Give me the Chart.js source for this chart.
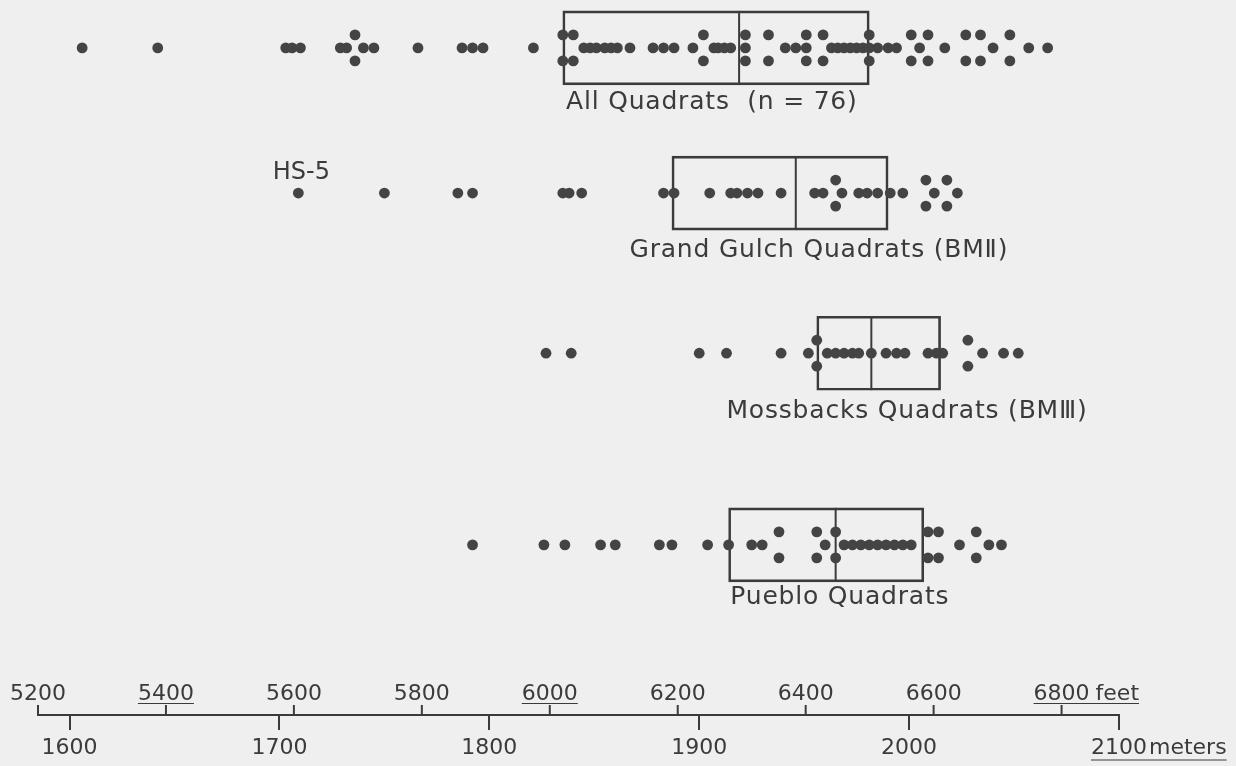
<!DOCTYPE html>
<html>
<head>
<meta charset="utf-8">
<title>Quadrat elevations</title>
<script src="https://cdn.jsdelivr.net/npm/chart.js@4.4.0/dist/chart.umd.min.js"></script>
<style>
  html, body { margin: 0; padding: 0; background: #efefef; }
  #wrap { width: 1236px; height: 766px; position: relative; }
</style>
</head>
<body>
<div id="wrap"><canvas id="elevChart"></canvas></div>
<script>
// elevations in meters
const groupNames = ['All Quadrats  (n = 76)', 'Grand Gulch Quadrats (BMⅡ)', 'Mossbacks Quadrats (BMⅢ)', 'Pueblo Quadrats'];
const allQuadrats = [1606, 1642, 1703, 1706, 1710, 1729, 1732, 1736, 1736, 1740, 1745, 1766, 1787, 1792, 1797,
  1821, 1835, 1835, 1840, 1840, 1845, 1848, 1851, 1855, 1858, 1861, 1867, 1878, 1883, 1888, 1897, 1902, 1902,
  1907, 1909, 1912, 1915, 1922, 1922, 1922, 1933, 1933, 1941, 1946, 1951, 1951, 1951, 1959, 1959, 1963, 1966,
  1969, 1972, 1975, 1978, 1981, 1981, 1981, 1985, 1990, 1994, 2001, 2001, 2005, 2009, 2009, 2017, 2027, 2027,
  2034, 2034, 2040, 2048, 2048, 2057, 2066];
const grandGulch = [1709, 1750, 1785, 1792, 1835, 1838, 1844, 1883, 1888, 1905, 1915, 1918, 1923, 1928, 1939,
  1955, 1959, 1965, 1965, 1968, 1976, 1980, 1985, 1991, 1997, 2008, 2008, 2012, 2018, 2018, 2023];
const mossbacks = [1827, 1839, 1900, 1913, 1939, 1952, 1956, 1956, 1961, 1965, 1969, 1973, 1976, 1982, 1989,
  1994, 1998, 2009, 2013, 2016, 2028, 2028, 2035, 2045, 2052];
const pueblo = [1792, 1826, 1836, 1853, 1860, 1881, 1887, 1904, 1914, 1925, 1930, 1938, 1938, 1956, 1956, 1960,
  1965, 1965, 1969, 1973, 1977, 1981, 1985, 1989, 1993, 1997, 2001, 2009, 2009, 2014, 2014, 2024, 2032, 2032,
  2038, 2044];

const boxLow = [1835, 1887, 1956, 1914];
const boxMedian = [1919, 1946, 1982, 1965];
const boxHigh = [1981, 1990, 2015, 2007];

const meterTicks = [1600, 1700, 1800, 1900, 2000, 2100];
const feetTicks = [5200, 5400, 5600, 5800, 6000, 6200, 6400, 6600, 6800];
const underlinedFeet = [5400, 6000, 6800];

const captionCenters = [1906, 1957, 1999, 1967];
const outlierName = 'HS-5';
const outlierValue = 1709;

// layout
const FT = 0.3048;
const rowY = [6.7, 27.0, 49.4, 76.2];
const captionY = [14.4, 35.0, 57.6, 83.6];
const outlierLabelY = 24.2;
const stackGap = 1.82;
const ink = '#3b3b3b';
const dotColor = '#444444';
const paper = '#efefef';
const fontFamily = '"DejaVu Sans", sans-serif';
const labelSize = 22;
const tickLen = 15;
const tickPad = 7;
const captionSize = 25;

// same value twice -> above and below, three times -> centre, above, below
function dotPoints(values, row) {
  const counts = {};
  values.forEach(v => { counts[v] = (counts[v] || 0) + 1; });
  const seen = {};
  return values.map(v => {
    const k = seen[v] = (seen[v] || 0) + 1;
    let shift = 0;
    if (counts[v] === 2) shift = k === 1 ? -stackGap : stackGap;
    else if (counts[v] >= 3) shift = [0, -stackGap, stackGap][k - 1] || 0;
    return { x: v, y: rowY[row] + shift };
  });
}

const series = [allQuadrats, grandGulch, mossbacks, pueblo];

const dotSets = series.map((vals, i) => ({
  type: 'scatter',
  label: groupNames[i],
  data: dotPoints(vals, i),
  pointRadius: 5.4,
  pointHoverRadius: 5.4,
  pointBackgroundColor: dotColor,
  pointBorderWidth: 0,
  order: 1
}));

const medianSet = {
  type: 'scatter',
  label: 'median',
  data: boxMedian.map((m, i) => ({ x: m, y: rowY[i] })),
  pointStyle: 'line',
  pointRotation: 90,
  pointRadius: 37,
  pointHoverRadius: 37,
  pointBorderColor: ink,
  pointBorderWidth: 2,
  order: 2
};

const boxSet = {
  type: 'bar',
  label: 'quartiles',
  indexAxis: 'y',
  xAxisID: 'x',
  yAxisID: 'y',
  data: boxLow.map((lo, i) => ({ y: rowY[i], x: [lo, boxHigh[i]] })),
  barThickness: 74,
  backgroundColor: 'rgba(0,0,0,0)',
  borderColor: ink,
  borderWidth: 2,
  borderSkipped: false,
  order: 3
};

const annotate = {
  id: 'annotate',
  beforeDraw(chart) {
    const ctx = chart.ctx;
    ctx.save();
    ctx.fillStyle = paper;
    ctx.fillRect(0, 0, chart.width, chart.height);
    ctx.restore();
  },
  afterDraw(chart) {
    const { ctx } = chart;
    const x = chart.scales.x;
    const y = chart.scales.y;
    const base = x.top;
    ctx.save();
    ctx.strokeStyle = ink;
    ctx.fillStyle = ink;
    ctx.lineWidth = 2;
    ctx.font = labelSize + 'px ' + fontFamily;

    // feet scale on top of the axis line
    ctx.textAlign = 'center';
    ctx.textBaseline = 'alphabetic';
    const lastFt = feetTicks[feetTicks.length - 1];
    feetTicks.forEach(ft => {
      const px = x.getPixelForValue(ft * FT);
      ctx.beginPath();
      ctx.moveTo(px, base);
      ctx.lineTo(px, base - 10);
      ctx.stroke();
      ctx.fillText(String(ft), px, base - 15);
      const w = ctx.measureText(String(ft)).width;
      if (ft === lastFt) {
        ctx.textAlign = 'left';
        ctx.fillText('feet', px + w / 2 + 6, base - 15);
        ctx.textAlign = 'center';
      }
      if (underlinedFeet.includes(ft)) {
        let right = px + w / 2;
        if (ft === lastFt) right += 6 + ctx.measureText('feet').width;
        ctx.lineWidth = 1;
        ctx.beginPath();
        ctx.moveTo(px - w / 2, base - 11.5);
        ctx.lineTo(right, base - 11.5);
        ctx.stroke();
        ctx.lineWidth = 2;
      }
    });

    // unit after the last meter label
    const lastM = meterTicks[meterTicks.length - 1];
    const mx = x.getPixelForValue(lastM);
    const my = base + tickLen + tickPad + labelSize / 2;
    const mw = ctx.measureText(String(lastM)).width;
    ctx.textAlign = 'left';
    ctx.textBaseline = 'middle';
    ctx.fillText('meters', mx + mw / 2 + 2, my);
    ctx.lineWidth = 1;
    ctx.beginPath();
    ctx.moveTo(mx - mw / 2, my + 12);
    ctx.lineTo(mx + mw / 2 + 2 + ctx.measureText('meters').width, my + 12);
    ctx.stroke();

    // group captions
    ctx.textAlign = 'center';
    ctx.font = captionSize + 'px ' + fontFamily;
    ctx.letterSpacing = '0.8px';
    groupNames.forEach((name, i) => {
      ctx.fillText(name, x.getPixelForValue(captionCenters[i]), y.getPixelForValue(captionY[i]));
    });
    ctx.font = '24px ' + fontFamily;
    ctx.letterSpacing = '0px';
    ctx.fillText(outlierName, x.getPixelForValue(outlierValue) + 3, y.getPixelForValue(outlierLabelY));
    ctx.restore();
  }
};

new Chart(document.getElementById('elevChart'), {
  type: 'scatter',
  data: { datasets: [...dotSets, medianSet, boxSet] },
  options: {
    responsive: true,
    maintainAspectRatio: false,
    animation: false,
    devicePixelRatio: 1,
    layout: { autoPadding: false, padding: { left: 38, right: 117, top: 0, bottom: 0 } },
    plugins: { legend: { display: false }, tooltip: { enabled: false } },
    scales: {
      x: {
        type: 'linear',
        min: 5200 * FT,
        max: 2100,
        offset: false,
        beginAtZero: false,
        afterBuildTicks: s => { s.ticks = meterTicks.map(v => ({ value: v })); },
        grid: { drawOnChartArea: false, drawTicks: true, tickLength: tickLen, lineWidth: 2, color: ink, offset: false },
        border: { display: true, color: ink, width: 2 },
        ticks: {
          color: ink,
          font: { family: fontFamily, size: labelSize, lineHeight: 1 },
          padding: tickPad,
          maxRotation: 0,
          autoSkip: false,
          callback: v => String(v)
        }
      },
      y: {
        type: 'linear',
        min: 0,
        max: 100,
        reverse: true,
        display: false,
        offset: false,
        beginAtZero: false,
        grid: { offset: false }
      }
    }
  },
  plugins: [annotate]
});
</script>
</body>
</html>
